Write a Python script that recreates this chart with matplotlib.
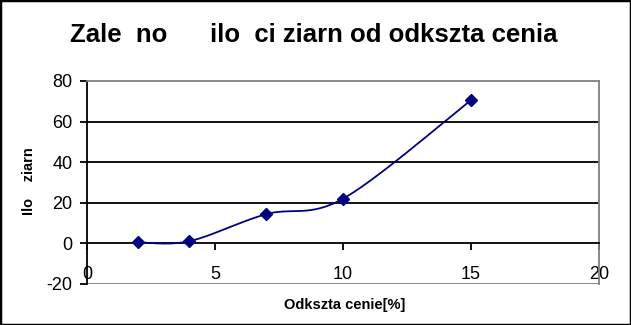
import numpy as np
import matplotlib.pyplot as plt
from matplotlib.patches import Rectangle

# dane
odksztalcenie = [2, 4, 7, 10, 15]
ilosc_ziarn = [0.5, 1.1, 14.4, 22, 70.6]
x_ticks = [0, 5, 10, 15, 20]
y_ticks = [-20, 0, 20, 40, 60, 80]

title_txt = 'Zale  no      ilo  ci ziarn od odkszta cenia'
xlabel_txt = 'Odkszta cenie[%]'
ylabel_txt = 'Ilo    ziarn'


def smooth(xs, ys, n=40):
    # wygladzanie jak w Excelu (krzywe Beziera, catmull-rom)
    P = np.column_stack([xs, ys]).astype(float)
    P = np.vstack([P[0], P, P[-1]])
    out = []
    t = np.linspace(0, 1, n)[:, None]
    for i in range(1, len(P) - 2):
        p0, p1 = P[i], P[i + 1]
        c1 = p0 + (P[i + 1] - P[i - 1]) / 6
        c2 = p1 - (P[i + 2] - P[i]) / 6
        seg = ((1 - t) ** 3) * p0 + 3 * ((1 - t) ** 2) * t * c1 + 3 * (1 - t) * t ** 2 * c2 + t ** 3 * p1
        out.append(seg)
    out = np.vstack(out)
    return out[:, 0], out[:, 1]


plt.rcParams['font.family'] = ['Liberation Sans', 'DejaVu Sans']
plt.rcParams['axes.unicode_minus'] = False

fig = plt.figure(figsize=(6.31, 3.25), dpi=100)
ax = fig.add_axes([87 / 631, 1 - 284 / 325, 512 / 631, 203 / 325])

sx, sy = smooth(odksztalcenie, ilosc_ziarn)
ax.plot(sx, sy, color='#000080', lw=1.3, zorder=3)
ax.plot(odksztalcenie, ilosc_ziarn, ls='none', marker='D', ms=6, color='#000080', zorder=4)

for y in [20, 40, 60]:
    ax.axhline(y, color='black', lw=1.3, zorder=1)
ax.axhline(-20, color='gray', lw=1.3, zorder=1)

ax.set_xlim(0, 20)
ax.set_ylim(-20, 80)
ax.set_xticks(x_ticks)
ax.set_yticks(y_ticks)

ax.spines['bottom'].set_position(('data', 0))
ax.spines['bottom'].set_linewidth(1.3)
ax.spines['left'].set_linewidth(1.3)
ax.spines['top'].set_color('gray')
ax.spines['right'].set_color('gray')
ax.spines['top'].set_linewidth(1.3)
ax.spines['right'].set_linewidth(1.3)

ax.tick_params(axis='x', direction='out', length=5, width=1.3, pad=11.5, labelsize=13)
ax.tick_params(axis='y', direction='out', length=5, width=1.3, pad=5.5, labelsize=13)

fig.text(314 / 631, 1 - 42 / 325, title_txt, ha='center', va='baseline',
         fontsize=18.5, fontweight='bold')
fig.text(345 / 631, 1 - 305 / 325, xlabel_txt, ha='center', va='center',
         fontsize=10.5, fontweight='bold')
fig.text(29 / 631, 1 - 181 / 325, ylabel_txt, ha='center', va='center',
         fontsize=10.5, fontweight='bold', rotation=90)

fig.patches.append(Rectangle((0, 0), 1, 1, transform=fig.transFigure,
                             fill=False, edgecolor='black', lw=2.5))

plt.savefig('out.png', dpi=100)
